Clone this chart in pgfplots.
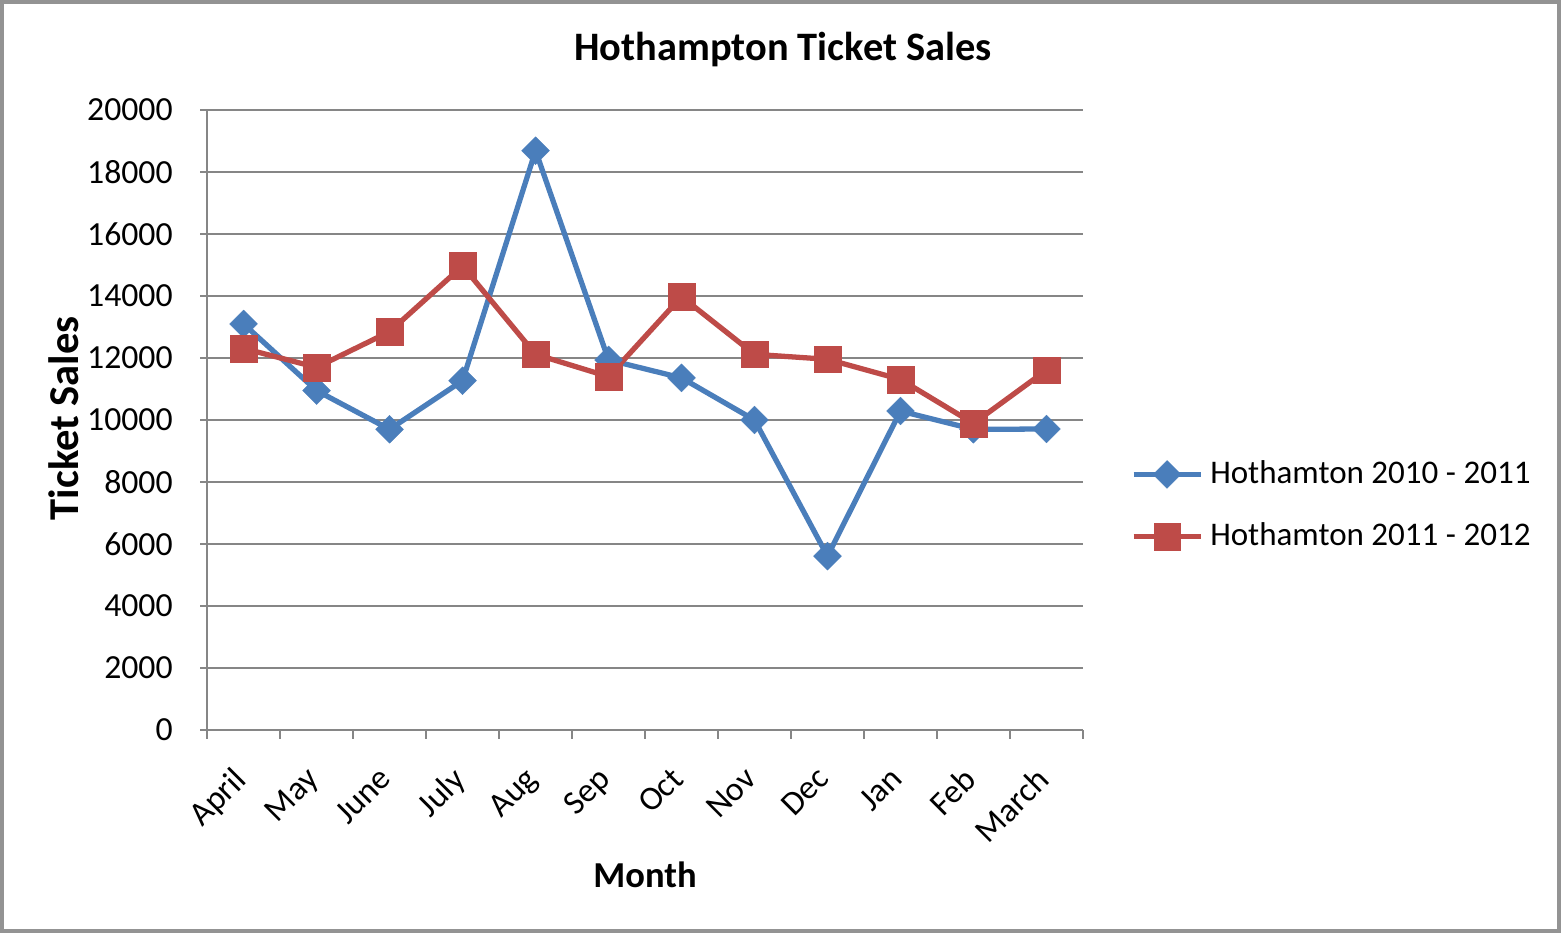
\documentclass[border=0pt]{standalone}
\usepackage{pgfplots}
\pgfplotsset{compat=1.18}
\usepackage{fontspec}
\setmainfont{Carlito}
\definecolor{sblue}{HTML}{4A7EBB}
\definecolor{sred}{HTML}{BE4B48}
\definecolor{gridc}{HTML}{868686}
\begin{document}
\begin{tikzpicture}[x=1cm,y=1cm]
\draw[draw=gray!85,line width=1.2pt,fill=white] (0.02,0.02) rectangle (15.59,9.31);
\path[use as bounding box] (0,0) rectangle (15.61,9.33);
\begin{axis}[
  at={(2.07cm,2.03cm)}, anchor=south west,
  scale only axis, width=8.76cm, height=6.2cm,
  xmin=-0.5, xmax=11.5, ymin=0, ymax=20000,
  axis x line=bottom, axis y line=left,
  axis line style={-, draw=gridc, line width=0.5pt},
  xtick={0,...,11},
  xticklabels={April,May,June,July,Aug,Sep,Oct,Nov,Dec,Jan,Feb,March},
  major x tick style={draw=none},
  minor xtick={-0.5,0.5,...,11.5},
  minor x tick style={draw=gridc, line width=0.5pt},
  minor tick length=0.09cm,
  ytick={0,2000,...,20000},
  y tick style={draw=gridc, line width=0.5pt},
  major tick length=0.07cm,
  tick align=outside,
  ymajorgrids, grid style={draw=gridc, line width=0.6pt},
  scaled y ticks=false,
  /pgf/number format/assume math mode=true,
  yticklabel={\pgfmathprintnumber[fixed,1000 sep={}]{\tick}},
  tick label style={font=\fontsize{9.6}{11}\selectfont, text=black},
  yticklabel style={xshift=-0.15cm},
  xticklabel style={xshift=-0.12cm, yshift=-0.11cm, rotate=45, anchor=north east},
  every axis title shift=0pt,
  title={\textbf{Hothampton Ticket Sales}},
  title style={font=\fontsize{11.5}{13}\selectfont, at={(axis description cs:0.6575,1.097)}, anchor=center},
  xlabel={\textbf{Month}},
  xlabel style={font=\fontsize{10.4}{12}\selectfont, at={(axis description cs:0.5,-0.234)}, anchor=center},
  ylabel={\textbf{Ticket Sales}},
  ylabel style={font=\fontsize{12.1}{14}\selectfont, at={(axis description cs:-0.164,0.503)}, anchor=center, rotate=0},
  legend style={draw=none, fill=none, at={(axis description cs:1.054,0.362)}, anchor=west,
    font=\fontsize{9.4}{11}\selectfont, row sep=0.2cm, inner sep=0pt},
  legend cell align=left,
  legend image code/.code={
    \draw[#1, mark=none] (0cm,0cm) -- (0.67cm,0cm);
    \draw[#1, only marks] plot coordinates {(0.335cm,0cm)};
  },
]
\addplot[color=sblue, line width=1.5pt, mark=square*, mark size=2.8pt,
  mark options={rotate=45, fill=sblue, draw=sblue, line width=0.1pt}]
  coordinates {(0,13100) (1,10950) (2,9700) (3,11270) (4,18690) (5,11940)
               (6,11360) (7,10000) (8,5610) (9,10290) (10,9700) (11,9710)};
\addlegendentry{Hothamton 2010 - 2011}
\addplot[color=sred, line width=1.5pt, mark=square*, mark size=3.8pt,
  mark options={fill=sred, draw=sred, line width=0.1pt}]
  coordinates {(0,12310) (1,11700) (2,12850) (3,14970) (4,12120) (5,11400)
               (6,13980) (7,12120) (8,11960) (9,11310) (10,9890) (11,11610)};
\addlegendentry{Hothamton 2011 - 2012}
\end{axis}
\end{tikzpicture}
\end{document}
